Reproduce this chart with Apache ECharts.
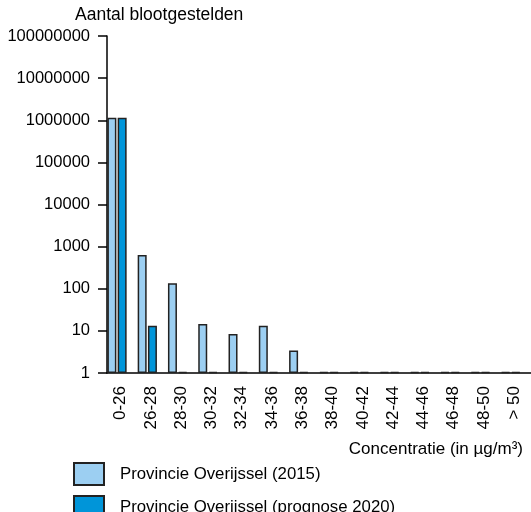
<!DOCTYPE html>
<html>
<head>
<meta charset="utf-8">
<script src="https://cdn.jsdelivr.net/npm/echarts@6/dist/echarts.min.js"></script>
<style>
html,body{margin:0;padding:0;background:#fff;}
#chart{width:531px;height:512px;}
</style>
</head>
<body>
<div id="chart"></div>
<script>
var categories = ['0-26','26-28','28-30','30-32','32-34','34-36','36-38','38-40','40-42','42-44','44-46','46-48','48-50','> 50'];
var values2015 = [1150000, 630, 135, 14.5, 8.4, 13.3, 3.4, 0, 0, 0, 0, 0, 0, 0];
var values2020 = [1150000, 13.3, 0, 0, 0, 0, 0, 0, 0, 0, 0, 0, 0, 0];
var yTicks = [1, 10, 100, 1000, 10000, 100000, 1000000, 10000000, 100000000];
var seriesNames = ['Provincie Overijssel (2015)', 'Provincie Overijssel (prognose 2020)'];
var colors = ['#9ccff2', '#0095d9'];

function forLog(arr){ return arr.map(function(v){ return v > 0 ? v : 1; }); }

var font = 'Liberation Sans, Arial, sans-serif';
var chart = echarts.init(document.getElementById('chart'), null, {renderer:'canvas'});
chart.setOption({
  animation: false,
  backgroundColor: '#fff',
  title: {
    text: 'Aantal blootgestelden',
    left: 70, top: 1,
    textStyle: {fontFamily: font, fontSize: 17.5, fontWeight: 'normal', color: '#000'}
  },
  legend: {
    data: seriesNames,
    orient: 'vertical',
    left: 73, top: 462, height: 80, padding: 0,
    itemWidth: 30, itemHeight: 22, itemGap: 9,
    icon: 'rect',
    textStyle: {fontFamily: font, fontSize: 16.8, color: '#000', padding: [0,0,0,11]}
  },
  graphic: [{
    type: 'text',
    x: 523, y: 449,
    style: {text: 'Concentratie (in µg/m³)', align: 'right', verticalAlign: 'middle',
      font: '17px ' + font, fill: '#000'}
  }],
  grid: {left: 107, top: 36, width: 442.4, bottom: 139, containLabel: false},
  xAxis: {
    type: 'category',
    data: categories,
    axisTick: {show: false},
    axisLine: {lineStyle: {color: '#000', width: 1.5}},
    axisLabel: {rotate: 90, margin: 13, interval: 0, color: '#000', fontFamily: font, fontSize: 17,
      verticalAlign: 'bottom', lineHeight: 3}
  },
  yAxis: {
    type: 'log',
    logBase: 10,
    min: yTicks[0], max: yTicks[yTicks.length-1],
    splitNumber: 8,
    splitLine: {show: false},
    axisLine: {show: true, lineStyle: {color: '#000', width: 1.5}},
    axisTick: {show: true, length: 9, lineStyle: {color: '#000', width: 1.5}},
    axisLabel: {margin: 17, color: '#000', fontFamily: font, fontSize: 16.5,
      formatter: function(v){ return String(Math.round(v)); }}
  },
  series: [{
    name: seriesNames[0], type: 'bar', data: forLog(values2015),
    barWidth: 9, barGap: '14%', barMinHeight: 1,
    itemStyle: {color: colors[0], borderColor: '#222', borderWidth: 1.5}
  },{
    name: seriesNames[1], type: 'bar', data: forLog(values2020),
    barWidth: 9, barGap: '14%', barMinHeight: 1,
    itemStyle: {color: colors[1], borderColor: '#222', borderWidth: 1.5}
  },{
    name: 'spacer', type: 'bar', data: categories.map(function(){ return null; }),
    barWidth: 9, barGap: '14%', silent: true
  }]
});
</script>
</body>
</html>
